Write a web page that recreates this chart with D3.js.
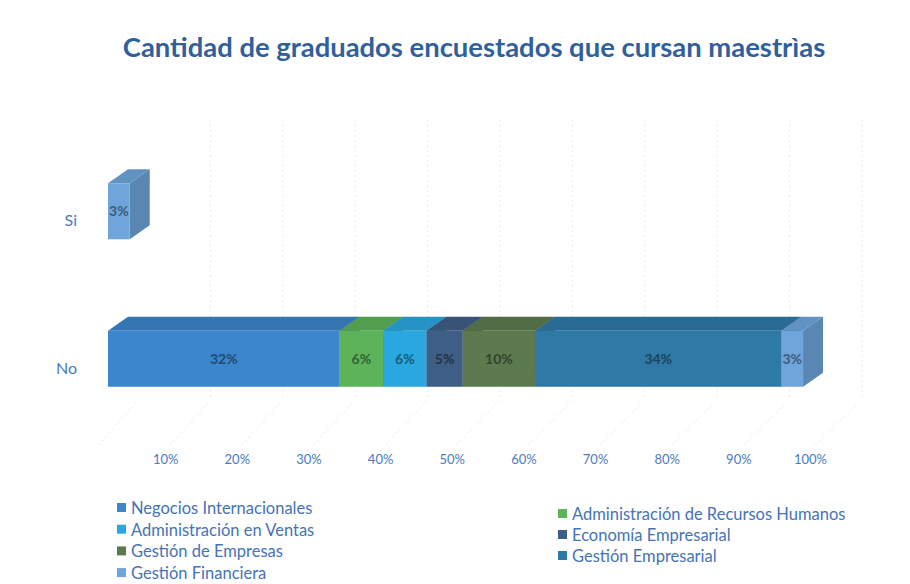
<!DOCTYPE html>
<html>
<head>
<meta charset="utf-8">
<script src="https://cdn.jsdelivr.net/npm/d3@7"></script>
<style>
  body { margin: 0; background: #fff; }
  svg text { font-family: Lato, "Noto Sans", sans-serif; }
</style>
</head>
<body>
<svg id="chart" width="910" height="584"></svg>
<script>
// answers (rows of the chart)
var categories = ['Si', 'No'];

// series, in stacking order
var seriesNames = [
  'Negocios Internacionales',
  'Administración de Recursos Humanos',
  'Administración en Ventas',
  'Economía Empresarial',
  'Gestión de Empresas',
  'Gestión Empresarial',
  'Gestión Financiera'
];
var seriesColors = ['#3b86cc', '#5cb35a', '#2aa7de', '#3f5e86', '#5d7a4f', '#2f79a6', '#6ea6dc'];

// percentages per series: [Si, No]
var siValues = [0, 0, 0, 0, 0, 0, 0.03];
var noValues = [0.32, 0.06, 0.06, 0.05, 0.10, 0.34, 0.03];

var tickValues = [0.1, 0.2, 0.3, 0.4, 0.5, 0.6, 0.7, 0.8, 0.9, 1.0];

var svg = d3.select('#chart');
var dx = 20, dy = 14; // depth of the 3d boxes

var x = d3.scaleLinear().domain([0, 1]).range([108, 832]);
// labels sit on the front edge of the floor, a bit left of the bars
var xLab = d3.scaleLinear().domain([0, 1]).range([93.5, 810]);
var y = d3.scaleBand().domain(categories).range([139, 431]).paddingInner(0.62).paddingOuter(0.3);

// title, sized to fit its width in the picture
var title = svg.append('text')
  .attr('x', 474).attr('y', 57)
  .attr('text-anchor', 'middle')
  .attr('fill', '#30609c')
  .style('font-weight', 'bold')
  .style('font-size', '22px')
  .text('Cantidad de graduados encuestados que cursan maestrìas');
var tw = title.node().getComputedTextLength();
title.style('font-size', (22 * 703 / tw) + 'px');

// faint back wall and floor grid
var grid = svg.append('g').attr('stroke', '#ebebeb').attr('stroke-width', 1).attr('stroke-dasharray', '2,3');
grid.selectAll('line.wall').data(tickValues).enter().append('line')
  .attr('class', 'wall')
  .attr('x1', function(d) { return x(d) + 30; }).attr('x2', function(d) { return x(d) + 30; })
  .attr('y1', 120).attr('y2', 400);
grid.selectAll('line.floor').data([0].concat(tickValues)).enter().append('line')
  .attr('class', 'floor')
  .attr('x1', function(d) { return xLab(d) + 5; }).attr('y1', 445)
  .attr('x2', function(d) { return x(d) + 30; }).attr('y2', 400);

// build the stacks
var rows = categories.map(function(c) { return { cat: c }; });
seriesNames.forEach(function(s, i) {
  rows[0][s] = siValues[i];
  rows[1][s] = noValues[i];
});
var stack = d3.stack().keys(seriesNames)(rows);

var segs = [];
stack.forEach(function(layer, i) {
  layer.forEach(function(p) {
    if (p[1] - p[0] > 0) segs.push({ name: seriesNames[i], color: seriesColors[i], cat: p.data.cat, x0: p[0], x1: p[1] });
  });
});

function boxFaces(g, d) {
  var l = x(d.x0), r = x(d.x1), t = y(d.cat), b = t + y.bandwidth();
  var c = d3.color(d.color);
  g.append('path') // top
    .attr('d', 'M' + l + ',' + t + 'L' + (l + dx) + ',' + (t - dy) + 'L' + (r + dx) + ',' + (t - dy) + 'L' + r + ',' + t + 'Z')
    .attr('fill', c.darker(0.35));
  g.append('path') // right side
    .attr('d', 'M' + r + ',' + t + 'L' + (r + dx) + ',' + (t - dy) + 'L' + (r + dx) + ',' + (b - dy) + 'L' + r + ',' + b + 'Z')
    .attr('fill', c.darker(0.6));
  g.append('rect') // front
    .attr('x', l).attr('y', t).attr('width', r - l).attr('height', b - t)
    .attr('fill', c);
}

var bars = svg.append('g');
segs.forEach(function(d) { boxFaces(bars.append('g'), d); });

// value labels
svg.append('g').selectAll('text').data(segs).enter().append('text')
  .attr('x', function(d) { return (x(d.x0) + x(d.x1)) / 2; })
  .attr('y', function(d) { return y(d.cat) + y.bandwidth() / 2 + 5; })
  .attr('text-anchor', 'middle')
  .attr('fill', function(d) { return d3.color(d.color).darker(1.7); })
  .style('font-size', '14px')
  .style('font-weight', 'bold')
  .text(function(d) { return Math.round((d.x1 - d.x0) * 100) + '%'; });

// category labels
svg.append('g').selectAll('text').data(categories).enter().append('text')
  .attr('x', 77)
  .attr('y', function(d) { return y(d) + y.bandwidth() / 2 + 15; })
  .attr('text-anchor', 'end')
  .attr('fill', '#4d7bbb')
  .style('font-size', '16px')
  .text(function(d) { return d; });

// x axis labels
var axis = svg.append('g').attr('transform', 'translate(0,452)')
  .call(d3.axisBottom(xLab).tickValues(tickValues).tickSize(0).tickFormat(d3.format('.0%')));
axis.select('.domain').remove();
axis.selectAll('text').attr('fill', '#4a7bc0').style('font-size', '13px').style('font-family', 'Lato, "Noto Sans", sans-serif');

// legend: two columns, filled row by row
var legend = svg.append('g');
var item = legend.selectAll('g').data(seriesNames).enter().append('g')
  .attr('transform', function(d, i) {
    var col = i % 2, row = Math.floor(i / 2);
    return col === 0 ? 'translate(117,' + (508 + row * 21.7) + ')' : 'translate(558,' + (514 + row * 21) + ')';
  });
item.append('rect')
  .attr('x', 0).attr('y', -5).attr('width', 9).attr('height', 9)
  .attr('fill', function(d, i) { return seriesColors[i]; });
item.append('text')
  .attr('x', 14).attr('y', 6)
  .attr('fill', '#4673b6')
  .style('font-size', '16.5px')
  .text(function(d) { return d; });
</script>
</body>
</html>
